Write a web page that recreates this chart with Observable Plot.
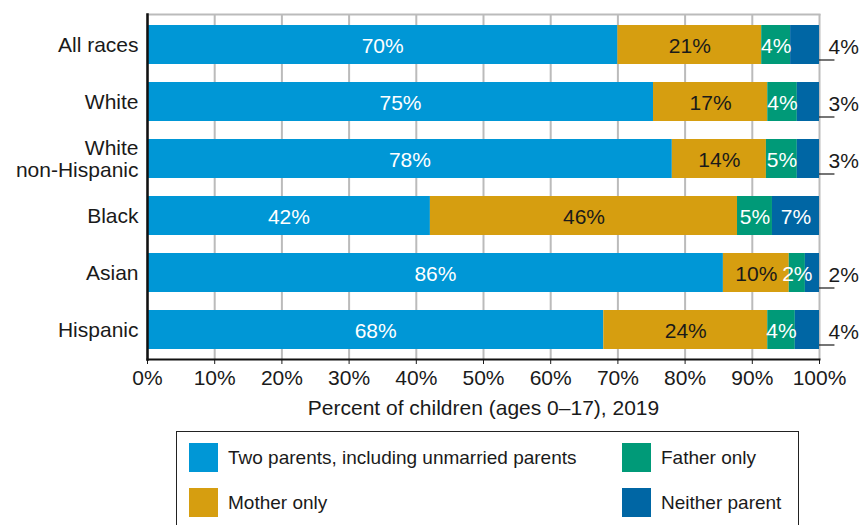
<!DOCTYPE html>
<html>
<head>
<meta charset="utf-8">
<script src="https://cdn.jsdelivr.net/npm/d3@7"></script>
<script src="https://cdn.jsdelivr.net/npm/@observablehq/plot@0.6"></script>
<style>
  body { margin: 0; background: #fff; font-family: "Liberation Sans", Arial, sans-serif; }
  #wrap { position: relative; width: 864px; height: 525px; overflow: hidden; }
  #legend { position: absolute; left: 176px; top: 431px; width: 623px; height: 110px; border: 1px solid #222; box-sizing: border-box; }
  .item { position: absolute; display: flex; align-items: center; font-size: 19px; color: #1a1a1a; }
  .sw { width: 29px; height: 29px; margin-right: 10px; }
</style>
</head>
<body>
<div id="wrap"><div id="chart"></div><div id="legend"></div></div>
<script>
const races = ["All races", "White", "White non-Hispanic", "Black", "Asian", "Hispanic"];
const raceLabels = ["All races", "White", "White\nnon-Hispanic", "Black", "Asian", "Hispanic"];
const categories = ["Two parents, including unmarried parents", "Mother only", "Father only", "Neither parent"];
const colors = ["#0097D6", "#D69E10", "#009A78", "#0066A4"];
const labelColors = ["white", "#1a1a1a", "white", "white"];
const twoParents = [70.0, 75.3, 78.1, 42.1, 85.7, 67.9];
const motherOnly = [21.4, 17.0, 14.0, 45.7, 9.8, 24.4];
const fatherOnly = [4.3, 4.4, 4.6, 5.2, 2.4, 4.1];
const neitherParent = [4.3, 3.3, 3.3, 7.0, 2.1, 3.6];
const outsideLabel = [true, true, true, false, true, true];
const xTicks = [0, 10, 20, 30, 40, 50, 60, 70, 80, 90, 100];

const series = [twoParents, motherOnly, fatherOnly, neitherParent];
const long = [];
races.forEach((r, i) => {
  series.forEach((s, k) => {
    long.push({race: r, cat: categories[k], k, value: s[i], outside: k === 3 && outsideLabel[i]});
  });
});
const outside = long.filter(d => d.outside);
const fmt = v => Math.round(v) + "%";

const chart = Plot.plot({
  width: 864,
  height: 425,
  marginLeft: 147,
  marginRight: 45,
  marginTop: 14,
  marginBottom: 66,
  style: {fontFamily: "'Liberation Sans', Arial, sans-serif", color: "#1a1a1a", background: "white"},
  x: {domain: [0, 100]},
  y: {domain: races, paddingInner: 0.32, paddingOuter: 0.155},
  color: {domain: categories, range: colors},
  marks: [
    Plot.ruleX(xTicks, {stroke: "#bbbbbb", strokeWidth: 2}),
    Plot.frame({anchor: "top", stroke: "#bbbbbb", strokeWidth: 2}),
    Plot.barX(long, Plot.stackX({y: "race", x: "value", fill: "cat", order: categories})),
    Plot.text(long, Plot.stackX({
      y: "race", x: "value", order: categories,
      text: d => d.outside ? "" : fmt(d.value),
      fill: d => labelColors[d.k],
      fontSize: 21, dy: 1
    })),
    Plot.text(outside, {x: 100, y: "race", text: d => fmt(d.value), dx: 9, dy: 2, textAnchor: "start", fontSize: 21, fill: "#1a1a1a"}),
    Plot.ruleY(outside, {y: "race", x1: 100, x2: 102.3, dy: 15, stroke: "#1a1a1a", strokeWidth: 1.2}),
    Plot.axisX(xTicks, {tickFormat: d => d + "%", fontSize: 21, tickSize: 5, tickPadding: 6, label: null}),
    Plot.axisY({tickSize: 0, tickPadding: 9, fontSize: 21, lineHeight: 1.02, tickFormat: d => raceLabels[races.indexOf(d)], label: null}),
    Plot.frame({anchor: "bottom", stroke: "#111", strokeWidth: 2}),
    Plot.frame({anchor: "left", stroke: "#111", strokeWidth: 2.5}),
    Plot.text(["Percent of children (ages 0–17), 2019"], {frameAnchor: "bottom", dy: 49, fontSize: 21, fill: "#1a1a1a", lineAnchor: "middle"})
  ]
});
document.getElementById("chart").appendChild(chart);

const legend = document.getElementById("legend");
const pos = [[12, 11], [12, 56], [445, 11], [445, 56]];
categories.forEach((c, k) => {
  const it = document.createElement("div");
  it.className = "item";
  it.style.left = pos[k][0] + "px";
  it.style.top = pos[k][1] + "px";
  it.innerHTML = `<div class="sw" style="background:${colors[k]}"></div><span>${c}</span>`;
  legend.appendChild(it);
});
</script>
</body>
</html>
